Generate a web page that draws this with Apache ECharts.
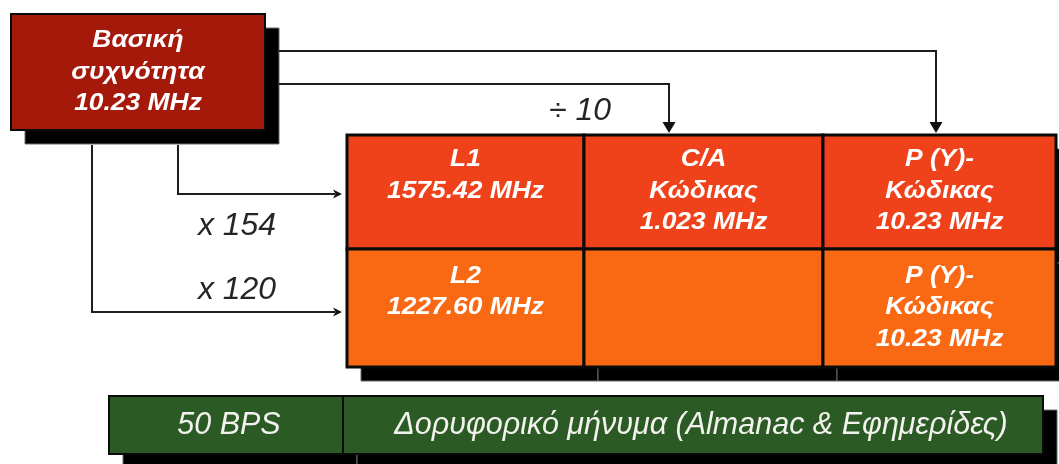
<!DOCTYPE html>
<html>
<head>
<meta charset="utf-8">
<title>Βασική συχνότητα GPS</title>
<script src="https://cdn.jsdelivr.net/npm/echarts@6/dist/echarts.min.js"></script>
<style>
  html, body { margin: 0; padding: 0; background: #fff; }
  #chart { width: 1059px; height: 464px; }
</style>
</head>
<body>
<div id="chart"></div>
<script>
// texts of the diagram
const sourceText = ['Βασική', 'συχνότητα', '10.23 MHz'];
const cellText = [
  ['L1\n1575.42 MHz', 'C/A\nΚώδικας\n1.023 MHz', 'P (Y)-\nΚώδικας\n10.23 MHz'],
  ['L2\n1227.60 MHz', '', 'P (Y)-\nΚώδικας\n10.23 MHz']
];
const messageText = ['50 BPS', 'Δορυφορικό μήνυμα (Almanac & Εφημερίδες)'];
const factorText = ['÷ 10', 'x 154', 'x 120'];

// diagram layout, in axis units (0..1059 x 0..464)
const sourceBox = [11, 14, 265, 130];
const colEdges = [347, 584, 823, 1056];
const rowEdges = [135, 249, 367];
const msgEdges = [109, 343, 1043];
const msgRowEdges = [396, 454];
const factorPos = [[580, 111], [237, 226], [237, 290]];
const downLinks = [
  [[279, 51], [936, 51], [936, 133]],
  [[279, 84], [669, 84], [669, 133]]
];
const sideLinks = [
  [[178, 145], [178, 194], [342, 194]],
  [[92, 145], [92, 312], [342, 312]]
];

const SHADOW = 14;
const FONT_BOLD = 'italic bold 24px "Liberation Sans", Arial, sans-serif';
const FONT_MSG = 'italic 30.5px "Liberation Sans", Arial, sans-serif';
const FONT_FACTOR = 'italic 31px "Liberation Sans", Arial, sans-serif';
const rowFills = ['#EF421B', '#F96914'];

// boxes: source, carrier grid, message bar
const boxes = [];
boxes.push({ rect: sourceBox, fill: '#A5190B', border: 2, text: sourceText.join('\n'),
  font: FONT_BOLD, color: '#fff', lh: 31.5, first: 26.5, sx: 1.1, dx: 0 });
for (let r = 0; r < 2; r++) {
  for (let c = 0; c < 3; c++) {
    boxes.push({
      rect: [colEdges[c], rowEdges[r], colEdges[c + 1], rowEdges[r + 1]],
      fill: rowFills[r], border: 3, text: cellText[r][c],
      font: FONT_BOLD, color: '#fff', lh: 31.5, first: r === 0 ? 24.5 : 27, sx: 1.1, dx: 0
    });
  }
}
for (let c = 0; c < 2; c++) {
  boxes.push({
    rect: [msgEdges[c], msgRowEdges[0], msgEdges[c + 1], msgRowEdges[1]],
    fill: '#2C5A24', border: 2, text: messageText[c],
    font: FONT_MSG, color: '#F2F2EE', lh: 32, first: 29.5, sx: 1.0, dx: c === 1 ? 8 : 3
  });
}
const links = downLinks.map(p => ({ pts: p, len: 11, half: 6.5, notch: 0 }))
  .concat(sideLinks.map(p => ({ pts: p, len: 9, half: 4.5, notch: 2.5 })));

function boxRect(api, b) {
  const a = api.coord([b[0], b[1]]);
  const c = api.coord([b[2], b[3]]);
  return { x: a[0], y: a[1], width: c[0] - a[0], height: c[1] - a[1] };
}

function textEl(x, y, text, font, color, lh, sx, valign) {
  return {
    type: 'text',
    x: x, y: y, scaleX: sx,
    style: {
      text: text, font: font, fill: color, textFill: color,
      align: 'center', textAlign: 'center',
      verticalAlign: valign, textVerticalAlign: valign,
      lineHeight: lh
    }
  };
}

const chart = echarts.init(document.getElementById('chart'));
const option = {
  animation: false,
  backgroundColor: '#fff',
  grid: { left: 0, right: 0, top: 0, bottom: 0 },
  xAxis: { type: 'value', min: 0, max: 1059, show: false },
  yAxis: { type: 'value', min: 0, max: 464, inverse: true, show: false },
  series: [
    {
      // drop shadows
      type: 'custom',
      silent: true,
      z: 1,
      data: boxes.map(b => b.rect),
      renderItem: function (params, api) {
        const r = boxRect(api, boxes[params.dataIndex].rect);
        return {
          type: 'rect',
          shape: { x: r.x + SHADOW, y: r.y + SHADOW, width: r.width, height: r.height },
          style: { fill: '#000', stroke: '#6a6a6a', lineWidth: 1 }
        };
      }
    },
    {
      // connectors with arrow heads
      type: 'custom',
      silent: true,
      z: 2,
      data: links.map(l => l.pts[0]),
      renderItem: function (params, api) {
        const l = links[params.dataIndex];
        const pts = l.pts.map(p => api.coord(p));
        const tip = pts[pts.length - 1];
        const prev = pts[pts.length - 2];
        let dx = tip[0] - prev[0], dy = tip[1] - prev[1];
        const d = Math.sqrt(dx * dx + dy * dy);
        dx /= d; dy /= d;
        const bx = tip[0] - dx * l.len, by = tip[1] - dy * l.len;
        const nx = -dy, ny = dx;
        const line = pts.slice(0, -1).concat([[bx + dx * 2, by + dy * 2]]);
        return {
          type: 'group',
          children: [
            {
              type: 'polyline',
              shape: { points: line },
              style: { stroke: '#1e1e1e', lineWidth: 2, fill: null, lineJoin: 'miter' }
            },
            {
              type: 'polygon',
              shape: {
                points: [
                  tip,
                  [bx + nx * l.half, by + ny * l.half],
                  [bx + dx * l.notch, by + dy * l.notch],
                  [bx - nx * l.half, by - ny * l.half]
                ]
              },
              style: { fill: '#111' }
            }
          ]
        };
      }
    },
    {
      // boxes and their texts
      type: 'custom',
      silent: true,
      z: 3,
      data: boxes.map(b => b.rect),
      renderItem: function (params, api) {
        const b = boxes[params.dataIndex];
        const r = boxRect(api, b.rect);
        const children = [{
          type: 'rect',
          shape: r,
          style: { fill: b.fill, stroke: '#0a0a0a', lineWidth: b.border }
        }];
        if (b.text) {
          children.push(textEl(r.x + r.width / 2 + b.dx, r.y + b.first - b.lh / 2,
            b.text, b.font, b.color, b.lh, b.sx, 'top'));
        }
        return { type: 'group', children: children };
      }
    },
    {
      // multiplier / divider labels
      type: 'custom',
      silent: true,
      z: 4,
      data: factorPos,
      renderItem: function (params, api) {
        const p = api.coord(factorPos[params.dataIndex]);
        return textEl(p[0], p[1], factorText[params.dataIndex], FONT_FACTOR, '#262626', 32, 1.03, 'middle');
      }
    }
  ]
};
chart.setOption(option);
</script>
</body>
</html>
